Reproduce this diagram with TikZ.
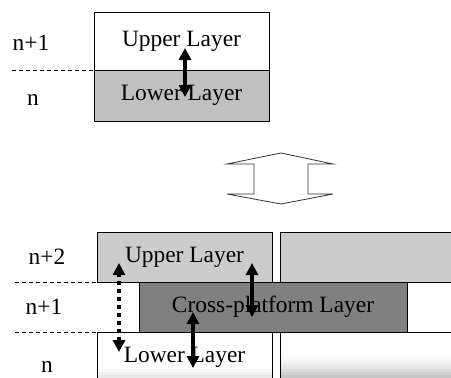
\documentclass[tikz,border=0pt]{standalone}
\usepackage{fontspec}
\setmainfont{Liberation Serif}
\usetikzlibrary{arrows.meta}
\definecolor{lowgray}{RGB}{192,192,192}
\definecolor{uppgray}{RGB}{204,204,204}
\definecolor{crossgray}{RGB}{128,128,128}

\begin{document}
\begin{tikzpicture}[
  x=1pt,y=-1pt,
  txt/.style={font=\fontsize{23.4}{28}\selectfont},
  layer/.style={draw,line width=0.9pt,inner sep=0pt,outer sep=0pt,anchor=north west,txt},
  level/.style={txt,inner sep=0pt},
  arr/.style={{Triangle[width=12pt,length=12pt]}-{Triangle[width=12pt,length=12pt]},line width=4pt},
  dotarr/.style={arr,dash pattern=on 4pt off 4pt},
  sep/.style={dash pattern=on 4pt off 3pt,line width=0.7pt},
]
  \useasboundingbox (0,0) rectangle (451,378);
  \clip (0,0) rectangle (451,378);

  % before: two layers
  \node[layer,minimum width=175pt,minimum height=58pt] (up1) at (94,12) {Upper Layer};
  \node[layer,fill=lowgray,minimum width=175pt,minimum height=51pt] (low1) at (94,70) {Lower Layer};
  \node[level] (l1a) at (31,43) {n+1};
  \node[level] (l1b) at (33,100) {n};
  \coordinate (s1) at (12,70);
  \draw[sep] (s1) -- (up1.south west);
  \coordinate (a1t) at (185,48);
  \coordinate (a1b) at (185,97);
  \draw[arr] (a1b) -- (a1t);

  % hollow up-down arrow
  \draw[line width=0.8pt,draw=black!80] (281,153) -- (333,164) -- (308,164) -- (308,194) -- (333,194)
    -- (281,204) -- (227,194) -- (254,194) -- (254,164) -- (227,164) -- cycle;

  % after: three layers (fading at the bottom edge)
  \foreach \yy/\c in {354/4,357/10,360/18,363/28,366/40,369/55,372/72,375/90}
    \fill[lowgray!\c] (280,\yy) rectangle (451,\yy+3.2);
  \foreach \yy/\c in {369/10,372/25,375/45}
    \fill[uppgray!\c] (97,\yy) rectangle (272,\yy+3.2);
  \node[layer,fill=uppgray,minimum width=200pt,minimum height=50pt] (rup) at (280,232) {};
  \node[layer,fill=white,minimum width=200pt,minimum height=50pt] (rmid) at (280,282) {};
  \node[layer,minimum width=200pt,minimum height=50pt] (rlow) at (280,332) {};
  \node[layer,fill=uppgray,minimum width=175pt,minimum height=50pt] (up2) at (97,232) {Upper Layer};
  \node[layer,minimum width=175pt,minimum height=50pt] (low2) at (97,332) {Lower Layer};
  \node[layer,fill=crossgray,minimum width=268pt,minimum height=50pt] (cross) at (139,282) {Cross-platform Layer};

  \node[level] (l2a) at (47,257) {n+2};
  \node[level] (l2b) at (44,307) {n+1};
  \node[level] (l2c) at (47,367) {n};
  \coordinate (s2) at (15,282);
  \coordinate (s3) at (15,332);
  \draw[sep] (s2) -- (up2.south west);
  \draw[sep] (s3) -- (low2.north west);

  \coordinate (d1t) at (119,263);
  \coordinate (d1b) at (119,352);
  \draw[dotarr] (d1b) -- (d1t);
  \coordinate (a2t) at (252,263);
  \coordinate (a2b) at (252,317);
  \draw[arr] (a2b) -- (a2t);
  \coordinate (a3t) at (193,312);
  \coordinate (a3b) at (193,368);
  \draw[arr] (a3b) -- (a3t);
\end{tikzpicture}
\end{document}
